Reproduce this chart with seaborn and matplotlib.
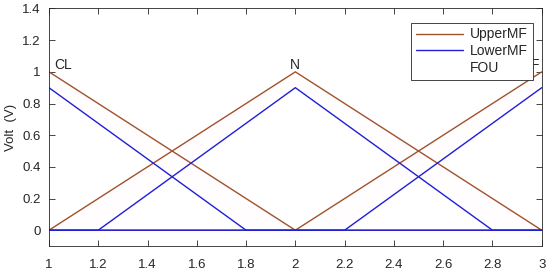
import matplotlib
matplotlib.use("Agg")
import matplotlib.pyplot as plt
import numpy as np
import seaborn as sns

# membership function vertices (x, upper, lower)
x_cl = [1.0, 2.0, 3.0]
upper_cl = [1.0, 0.0, 0.0]
x_cl_low = [1.0, 1.8, 3.0]
lower_cl = [0.9, 0.0, 0.0]

x_n = [1.0, 2.0, 3.0]
upper_n = [0.0, 1.0, 0.0]
x_n_low = [1.0, 1.2, 2.0, 2.8, 3.0]
lower_n = [0.0, 0.0, 0.9, 0.0, 0.0]

x_f = [1.0, 2.0, 3.0]
upper_f = [0.0, 0.0, 1.0]
x_f_low = [1.0, 2.2, 3.0]
lower_f = [0.0, 0.0, 0.9]

labels = ["CL", "N", "F"]
label_x = [1.0, 2.0, 3.0]

upper_color = "#a0522d"
lower_color = "#1f1fd6"

sns.set_style("ticks")
plt.rcParams["font.family"] = ["Liberation Sans", "DejaVu Sans"]
plt.rcParams["font.size"] = 9.5

fig = plt.figure(figsize=(5.5, 2.74), dpi=100)
ax = fig.add_axes([0.089, 0.102, 0.896, 0.867])

uppers = [(x_cl, upper_cl), (x_n, upper_n), (x_f, upper_f)]
lowers = [(x_cl_low, lower_cl), (x_n_low, lower_n), (x_f_low, lower_f)]

# FOU fill, almost white like the original
for (xu, yu), (xl, yl) in zip(uppers, lowers):
    grid = np.union1d(xu, xl)
    ax.fill_between(grid, np.interp(grid, xl, yl), np.interp(grid, xu, yu),
                    color="#fffdfe", lw=0, zorder=0)

for i, (xu, yu) in enumerate(uppers):
    sns.lineplot(x=xu, y=yu, ax=ax, color=upper_color, lw=1,
                 sort=False, estimator=None, label="UpperMF" if i == 0 else None)
for i, (xl, yl) in enumerate(lowers):
    sns.lineplot(x=xl, y=yl, ax=ax, color=lower_color, lw=1,
                 sort=False, estimator=None, label="LowerMF" if i == 0 else None)

ax.plot([], [], color="white", label="FOU")

ax.text(label_x[0] + 0.02, 1.0, labels[0], ha="left", va="bottom", fontsize=10)
ax.text(label_x[1], 1.0, labels[1], ha="center", va="bottom", fontsize=10)
ax.text(label_x[2] - 0.01, 1.0, labels[2], ha="right", va="bottom", fontsize=10)

ax.set_xlim(1, 3)
ax.set_ylim(-0.1, 1.4)
xt = np.arange(1.0, 3.01, 0.2)
ax.set_xticks(xt)
ax.set_xticklabels([f"{v:g}" for v in np.round(xt, 1)])
yt = np.arange(0, 1.41, 0.2)
ax.set_yticks(yt)
ax.set_yticklabels([f"{v:g}" for v in np.round(yt, 1)])
ax.set_ylabel("Volt  (V)", labelpad=4)
ax.tick_params(direction="in", top=True, right=True, length=4, width=0.6,
               pad=6, colors="#262626", labelcolor="#262626")
ax.tick_params(axis="x", pad=9)
for s in ax.spines.values():
    s.set_visible(True)
    s.set_linewidth(0.6)
    s.set_color("#262626")

leg = ax.legend(loc="upper right", bbox_to_anchor=(0.996, 0.97), frameon=True,
                fancybox=False, edgecolor="#262626", framealpha=1,
                handlelength=3.4, handletextpad=0.5, borderpad=0.35,
                labelspacing=0.2, fontsize=10)
leg.set_zorder(5)
leg.get_frame().set_linewidth(0.6)

fig.savefig("out.png", dpi=100)
